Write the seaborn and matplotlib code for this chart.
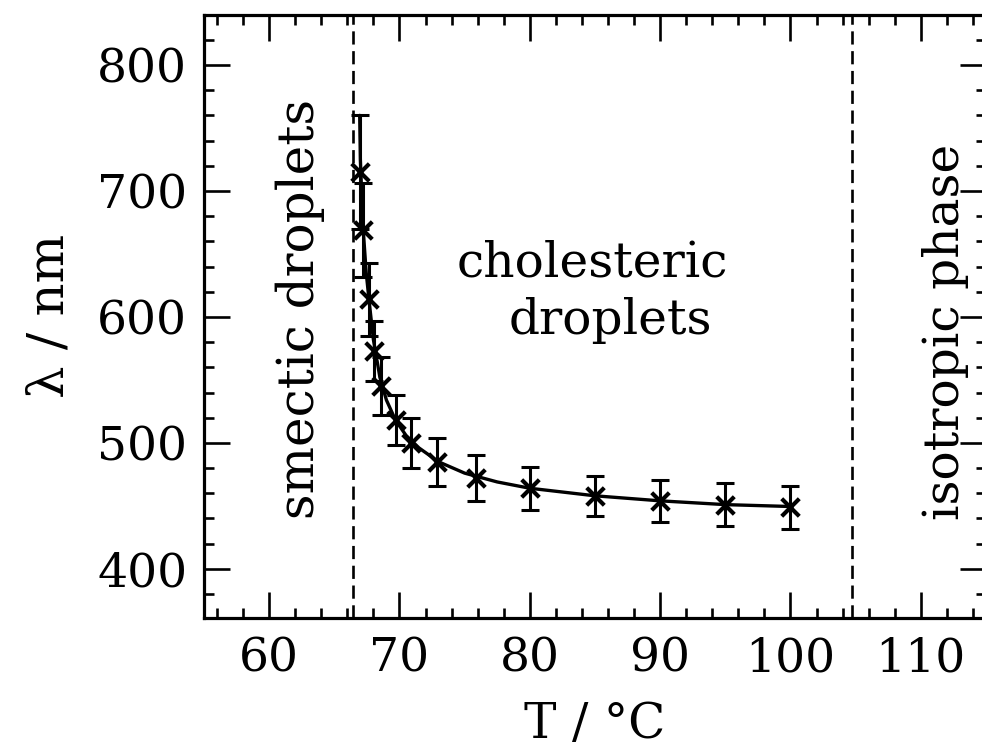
import numpy as np
import pandas as pd
import matplotlib
matplotlib.use("Agg")
import matplotlib.pyplot as plt
import seaborn as sns
from matplotlib.ticker import MultipleLocator

# measured points (temperature, wavelength, error)
temp = [67.0, 67.2, 67.65, 68.05, 68.6, 69.7, 70.9, 72.9, 75.9, 80.0, 85.0, 90.0, 95.0, 100.0]
wavelength = [715, 669, 614, 573, 545, 518, 500, 485, 472, 464, 458, 454, 451, 449]
err = [45, 37, 29, 24, 23, 20, 20, 19, 18, 17, 16, 16.5, 17, 17]

# fitted curve
fit_t = [66.95, 67.0, 67.2, 67.45, 67.7, 68.0, 68.5, 69.0, 69.7, 70.5, 71.5, 73.0, 75.0, 77.5, 80.0, 85.0, 90.0, 95.0, 100.0]
fit_l = [760, 725, 672, 635, 610, 582, 552, 534, 518, 506, 496, 485, 476, 469, 464, 458, 454, 451, 449.5]

# phase boundaries
boundaries = [66.4, 104.7]

sns.set_style("ticks")
plt.rcParams['font.family'] = ['DejaVu Serif']
plt.rcParams['mathtext.fontset'] = 'dejavuserif'
plt.rcParams['text.color'] = 'black'
plt.rcParams['axes.labelcolor'] = 'black'

fig = plt.figure(figsize=(9.82, 7.53), dpi=100)
ax = fig.add_axes([0.2077, 0.1793, 0.7963, 0.8013])

fit_df = pd.DataFrame({'T': fit_t, 'lam': fit_l})
sns.lineplot(data=fit_df, x='T', y='lam', ax=ax, color='black', linewidth=2.4, sort=False)

ax.errorbar(temp, wavelength, yerr=err, fmt='none', ecolor='black', elinewidth=2.2,
            capsize=6.5, capthick=2.2)
sns.scatterplot(x=temp, y=wavelength, ax=ax, marker='x', s=160, color='black',
                linewidth=3, zorder=5)

for b in boundaries:
    ax.axvline(b, color='black', linestyle=(0, (5, 2.5)), linewidth=1.9)

ax.set_xlim(55, 115)
ax.set_ylim(361, 840)
ax.xaxis.set_major_locator(MultipleLocator(10))
ax.xaxis.set_minor_locator(MultipleLocator(2))
ax.yaxis.set_major_locator(MultipleLocator(100))
ax.yaxis.set_minor_locator(MultipleLocator(20))
ax.set_xticks([60, 70, 80, 90, 100, 110])
ax.set_yticks([400, 500, 600, 700, 800])

ax.tick_params(which='both', direction='in', top=True, right=True, width=1.9, colors='black')
ax.tick_params(which='major', length=19, labelsize=34)
ax.tick_params(which='minor', length=7)
ax.tick_params(axis='x', which='major', pad=13)
ax.tick_params(axis='y', which='major', pad=12)
for s in ax.spines.values():
    s.set_linewidth(2.3)
    s.set_color('black')

ax.set_xlabel('T / °C', fontsize=35, labelpad=14)
ax.set_ylabel('λ / nm', fontsize=37, labelpad=16)

ax.text(62.4, 606, 'smectic droplets', rotation=90, fontsize=36, ha='center', va='center')
ax.text(111.9, 588, 'isotropic phase', rotation=90, fontsize=35, ha='center', va='center')
ax.text(84.8, 643, 'cholesteric', fontsize=35, ha='center', va='center')
ax.text(86.2, 597, 'droplets', fontsize=35, ha='center', va='center')

fig.savefig('out.png', dpi=100)
